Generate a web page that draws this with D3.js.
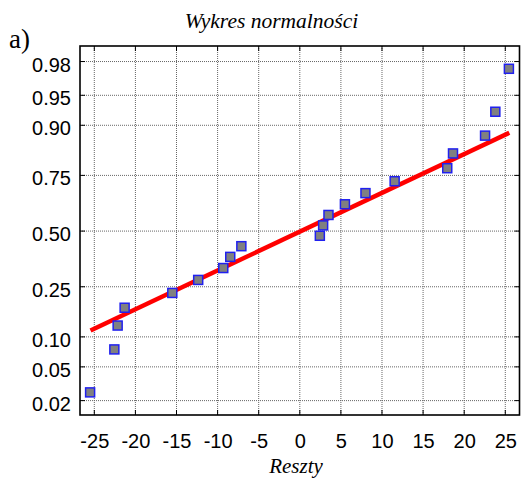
<!DOCTYPE html>
<html>
<head>
<meta charset="utf-8">
<script src="https://cdn.jsdelivr.net/npm/d3@7"></script>
<style>
  body { margin: 0; background: #fff; }
  .tick-label { font-family: Arial, "Liberation Sans", sans-serif; font-size: 20px; fill: #000; }
</style>
</head>
<body>
<div id="chart"></div>
<script>
// residuals (x) and their normal-plot probabilities (y)
const residuals = [-25.45, -22.5, -22.1, -21.25, -15.45, -12.3, -9.25, -8.4, -7.05, 2.5,
                   2.9, 3.55, 5.55, 8.05, 11.6, 18.0, 18.7, 22.6, 23.85, 25.5];
const probs = [0.025, 0.075, 0.125, 0.175, 0.225, 0.275, 0.325, 0.375, 0.425, 0.475,
               0.525, 0.575, 0.625, 0.675, 0.725, 0.775, 0.825, 0.875, 0.925, 0.975];

// fitted line end points
const fitX = [-25.4, 25.55];
const fitP = [0.113, 0.882];

const xTicks = [-25, -20, -15, -10, -5, 0, 5, 10, 15, 20, 25];
const yTicks = [0.02, 0.05, 0.10, 0.25, 0.50, 0.75, 0.90, 0.95, 0.98];
const yTickLabels = ["0.02", "0.05", "0.10", "0.25", "0.50", "0.75", "0.90", "0.95", "0.98"];

// inverse normal cdf (Acklam) for the probability axis
function probit(p) {
    const a = [-3.969683028665376e+01, 2.209460984245205e+02, -2.759285104469687e+02, 1.383577518672690e+02, -3.066479806614716e+01, 2.506628277459239e+00];
    const b = [-5.447609879822406e+01, 1.615858368580409e+02, -1.556989798598866e+02, 6.680131188771972e+01, -1.328068155288572e+01];
    const c = [-7.784894002430293e-03, -3.223964580411365e-01, -2.400758277161838e+00, -2.549732539343734e+00, 4.374664141464968e+00, 2.938163982698783e+00];
    const d = [7.784695709041462e-03, 3.224671290700398e-01, 2.445134137142996e+00, 3.754408661907416e+00];
    const plow = 0.02425;
    let q, r;
    if (p < plow) {
        q = Math.sqrt(-2 * Math.log(p));
        return (((((c[0]*q+c[1])*q+c[2])*q+c[3])*q+c[4])*q+c[5]) / ((((d[0]*q+d[1])*q+d[2])*q+d[3])*q+1);
    }
    if (p <= 1 - plow) {
        q = p - 0.5; r = q * q;
        return (((((a[0]*r+a[1])*r+a[2])*r+a[3])*r+a[4])*r+a[5])*q / (((((b[0]*r+b[1])*r+b[2])*r+b[3])*r+b[4])*r+1);
    }
    q = Math.sqrt(-2 * Math.log(1 - p));
    return -(((((c[0]*q+c[1])*q+c[2])*q+c[3])*q+c[4])*q+c[5]) / ((((d[0]*q+d[1])*q+d[2])*q+d[3])*q+1);
}

const W = 521, H = 479;
const plot = { left: 80, top: 46, right: 519.5, bottom: 415 };

const svg = d3.select("#chart")
    .append("svg")
    .attr("width", W)
    .attr("height", H);

const x = d3.scaleLinear()
    .domain([-26.68, 26.79])
    .range([plot.left, plot.right]);

// linear in z-score, ticks given as probabilities
const z = d3.scaleLinear()
    .domain([-2.234, 2.236])
    .range([plot.bottom, plot.top]);
const y = p => z(probit(p));
const zTicks = yTicks.map(probit);

const pw = plot.right - plot.left, ph = plot.bottom - plot.top;

// dotted grid
svg.append("g")
    .attr("transform", `translate(0,${plot.bottom})`)
    .call(d3.axisBottom(x).tickValues(xTicks).tickSize(-ph).tickFormat(""))
    .call(g => g.select(".domain").remove())
    .selectAll("line")
    .attr("stroke", "#666")
    .attr("stroke-dasharray", "1,1");

svg.append("g")
    .attr("transform", `translate(${plot.left},0)`)
    .call(d3.axisLeft(z).tickValues(zTicks).tickSize(-pw).tickFormat(""))
    .call(g => g.select(".domain").remove())
    .selectAll("line")
    .attr("stroke", "#666")
    .attr("stroke-dasharray", "1,1");

// inward tick marks on all sides
const tickLen = -5;
svg.append("g")
    .attr("transform", `translate(0,${plot.bottom})`)
    .call(d3.axisBottom(x).tickValues(xTicks).tickSize(tickLen).tickFormat(""))
    .call(g => g.select(".domain").remove());
svg.append("g")
    .attr("transform", `translate(0,${plot.top})`)
    .call(d3.axisTop(x).tickValues(xTicks).tickSize(tickLen).tickFormat(""))
    .call(g => g.select(".domain").remove());
svg.append("g")
    .attr("transform", `translate(${plot.left},0)`)
    .call(d3.axisLeft(z).tickValues(zTicks).tickSize(tickLen).tickFormat(""))
    .call(g => g.select(".domain").remove());
svg.append("g")
    .attr("transform", `translate(${plot.right},0)`)
    .call(d3.axisRight(z).tickValues(zTicks).tickSize(tickLen).tickFormat(""))
    .call(g => g.select(".domain").remove());

// tick labels
svg.append("g")
    .selectAll("text")
    .data(yTicks)
    .enter().append("text")
    .attr("class", "tick-label")
    .attr("x", plot.left - 9)
    .attr("y", d => y(d) + 10.5)
    .style("text-anchor", "end")
    .text((d, i) => yTickLabels[i]);

svg.append("g")
    .selectAll("text")
    .data(xTicks)
    .enter().append("text")
    .attr("class", "tick-label")
    .attr("x", d => x(d) + 1)
    .attr("y", 448)
    .style("text-anchor", "middle")
    .text(d => d);

// fitted line
const line = d3.line()
    .x(d => x(d[0]))
    .y(d => y(d[1]));
svg.append("path")
    .datum(fitX.map((v, i) => [v, fitP[i]]))
    .attr("d", line)
    .attr("fill", "none")
    .attr("stroke", "#ff0000")
    .attr("stroke-width", 4.5);

// points
const s = 9;
svg.append("g")
    .selectAll("rect")
    .data(residuals)
    .enter().append("rect")
    .attr("x", d => x(d) - s / 2)
    .attr("y", (d, i) => y(probs[i]) - s / 2)
    .attr("width", s)
    .attr("height", s)
    .attr("fill", "#808080")
    .attr("stroke", "#2020f0")
    .attr("stroke-width", 1.5);

// frame
svg.append("rect")
    .attr("x", plot.left)
    .attr("y", plot.top)
    .attr("width", pw)
    .attr("height", ph)
    .attr("fill", "none")
    .attr("stroke", "#000")
    .attr("stroke-width", 1.6);

// titles
svg.append("text")
    .attr("x", 271.5)
    .attr("y", 28)
    .style("text-anchor", "middle")
    .style("font-family", "'Times New Roman', 'Liberation Serif', serif")
    .style("font-style", "italic")
    .style("font-size", "21.5px")
    .text("Wykres normalności");

svg.append("text")
    .attr("x", 296)
    .attr("y", 473)
    .style("text-anchor", "middle")
    .style("font-family", "'Times New Roman', 'Liberation Serif', serif")
    .style("font-style", "italic")
    .style("font-size", "21px")
    .text("Reszty");

svg.append("text")
    .attr("x", 9)
    .attr("y", 48)
    .style("font-family", "'Times New Roman', 'Liberation Serif', serif")
    .style("font-size", "27px")
    .text("a)");
</script>
</body>
</html>
